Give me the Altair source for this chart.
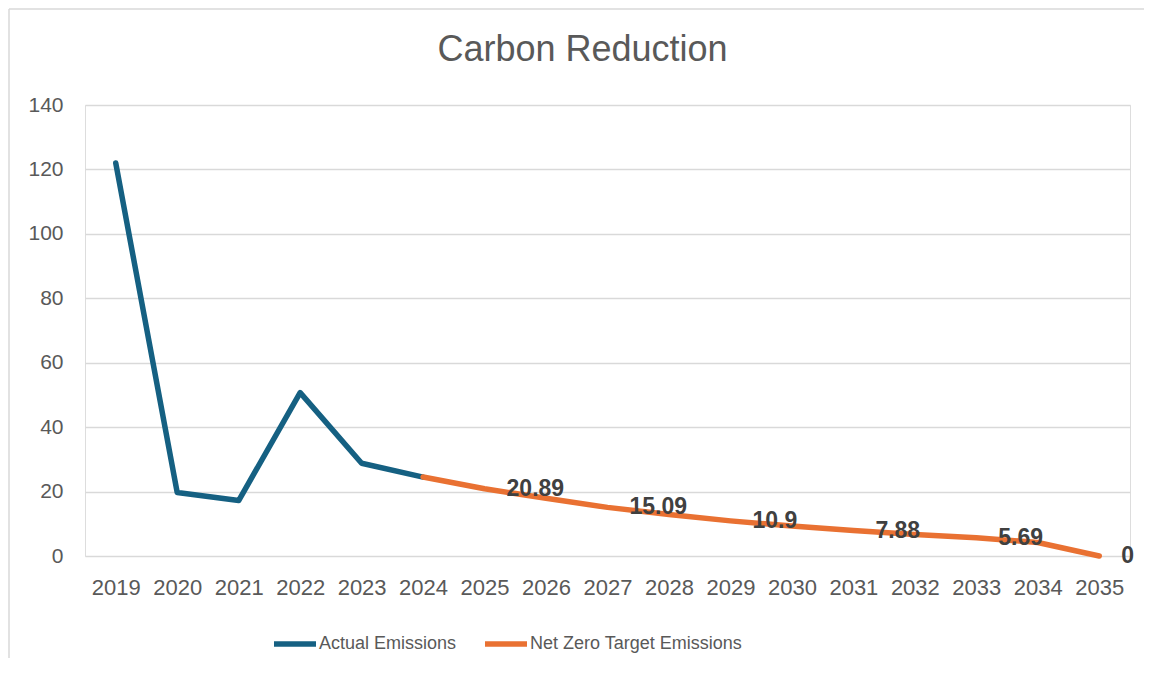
import altair as alt
import pandas as pd

# ---- data ----
years = [str(y) for y in range(2019, 2036)]

actual_years = ["2019", "2020", "2021", "2022", "2023", "2024"]
actual_values = [122.0, 19.7, 17.2, 50.7, 28.8, 24.5]

target_years = ["2024", "2025", "2026", "2027", "2028", "2029",
                "2030", "2031", "2032", "2033", "2034", "2035"]
target_values = [24.5, 20.89, 17.9, 15.09, 12.9, 10.9,
                 9.3, 7.88, 6.7, 5.69, 4.2, 0.0]

label_years = ["2025", "2027", "2029", "2031", "2033", "2035"]
label_values = [20.89, 15.09, 10.9, 7.88, 5.69, 0.0]
label_texts = ["20.89", "15.09", "10.9", "7.88", "5.69", "0"]

series_names = ["Actual Emissions", "Net Zero Target Emissions"]
series_colors = ["#156082", "#E97132"]

y_ticks = [0, 20, 40, 60, 80, 100, 120, 140]

FONT = "Liberation Sans"

lines_df = pd.DataFrame(
    {
        "Year": actual_years + target_years,
        "Value": actual_values + target_values,
        "Series": [series_names[0]] * len(actual_years)
        + [series_names[1]] * len(target_years),
    }
)
labels_df = pd.DataFrame({"Year": label_years, "Value": label_values, "Label": label_texts})

x_scale = alt.Scale(type="point", domain=years, padding=0.5)
x_axis = alt.Axis(
    title=None,
    labelAngle=0,
    labelFont=FONT,
    labelFontSize=22,
    labelColor="#595959",
    labelPadding=21,
    ticks=False,
    domain=False,
    grid=False,
)
y_axis = alt.Axis(
    title=None,
    values=y_ticks,
    labelFont=FONT,
    labelFontSize=21,
    labelColor="#595959",
    labelPadding=22,
    ticks=False,
    domain=False,
    grid=True,
    gridColor="#d9d9d9",
    gridWidth=1.5,
)
y_scale = alt.Scale(domain=[0, 140], nice=False, zero=True)

lines = (
    alt.Chart(lines_df)
    .mark_line(strokeWidth=5.5, strokeCap="round", strokeJoin="round")
    .encode(
        x=alt.X("Year:O", sort=years, scale=x_scale, axis=x_axis),
        y=alt.Y("Value:Q", scale=y_scale, axis=y_axis),
        color=alt.Color(
            "Series:N",
            scale=alt.Scale(domain=series_names, range=series_colors),
            legend=alt.Legend(
                title=None,
                orient="none",
                direction="horizontal",
                legendX=186,
                legendY=515,
                symbolType="stroke",
                symbolSize=1764,
                symbolStrokeWidth=5.5,
                labelFont=FONT,
                labelFontSize=18,
                labelColor="#595959",
                labelOffset=0,
                labelLimit=0,
                columnPadding=17,
                padding=0,
            ),
        ),
        order=alt.Order("Year:O"),
    )
)

labels = (
    alt.Chart(labels_df)
    .mark_text(
        align="left",
        baseline="middle",
        dx=22,
        font=FONT,
        fontSize=23,
        fontWeight="bold",
        color="#404040",
    )
    .encode(
        x=alt.X("Year:O", sort=years, scale=x_scale, axis=x_axis),
        y=alt.Y("Value:Q", scale=y_scale, axis=y_axis),
        text="Label:N",
    )
)

edge_df = pd.DataFrame({"b": [0]})
left_edge = (
    alt.Chart(edge_df)
    .mark_rule(color="#d9d9d9", strokeWidth=1.5)
    .encode(x=alt.value(-76), y=alt.value(-96), y2=alt.value(800))
)
top_edge = (
    alt.Chart(edge_df)
    .mark_rule(color="#d9d9d9", strokeWidth=1.5)
    .encode(x=alt.value(-76), x2=alt.value(1300), y=alt.value(-96))
)

chart = (
    alt.layer(left_edge, top_edge, lines, labels)
    .properties(
        width=1045,
        height=451,
        title=alt.Title(
            "Carbon Reduction",
            font=FONT,
            fontSize=36,
            fontWeight="normal",
            color="#595959",
            anchor="middle",
            baseline="alphabetic",
            dx=-25,
            dy=89,
            offset=0,
        ),
        autosize=alt.AutoSizeParams(type="none"),
        padding={"left": 77, "top": 97, "right": 14, "bottom": 102},
    )
    .configure_view(stroke=None)
    .configure(background="white")
)

chart.save("out.html", embed_options={"renderer": "svg", "actions": False})
